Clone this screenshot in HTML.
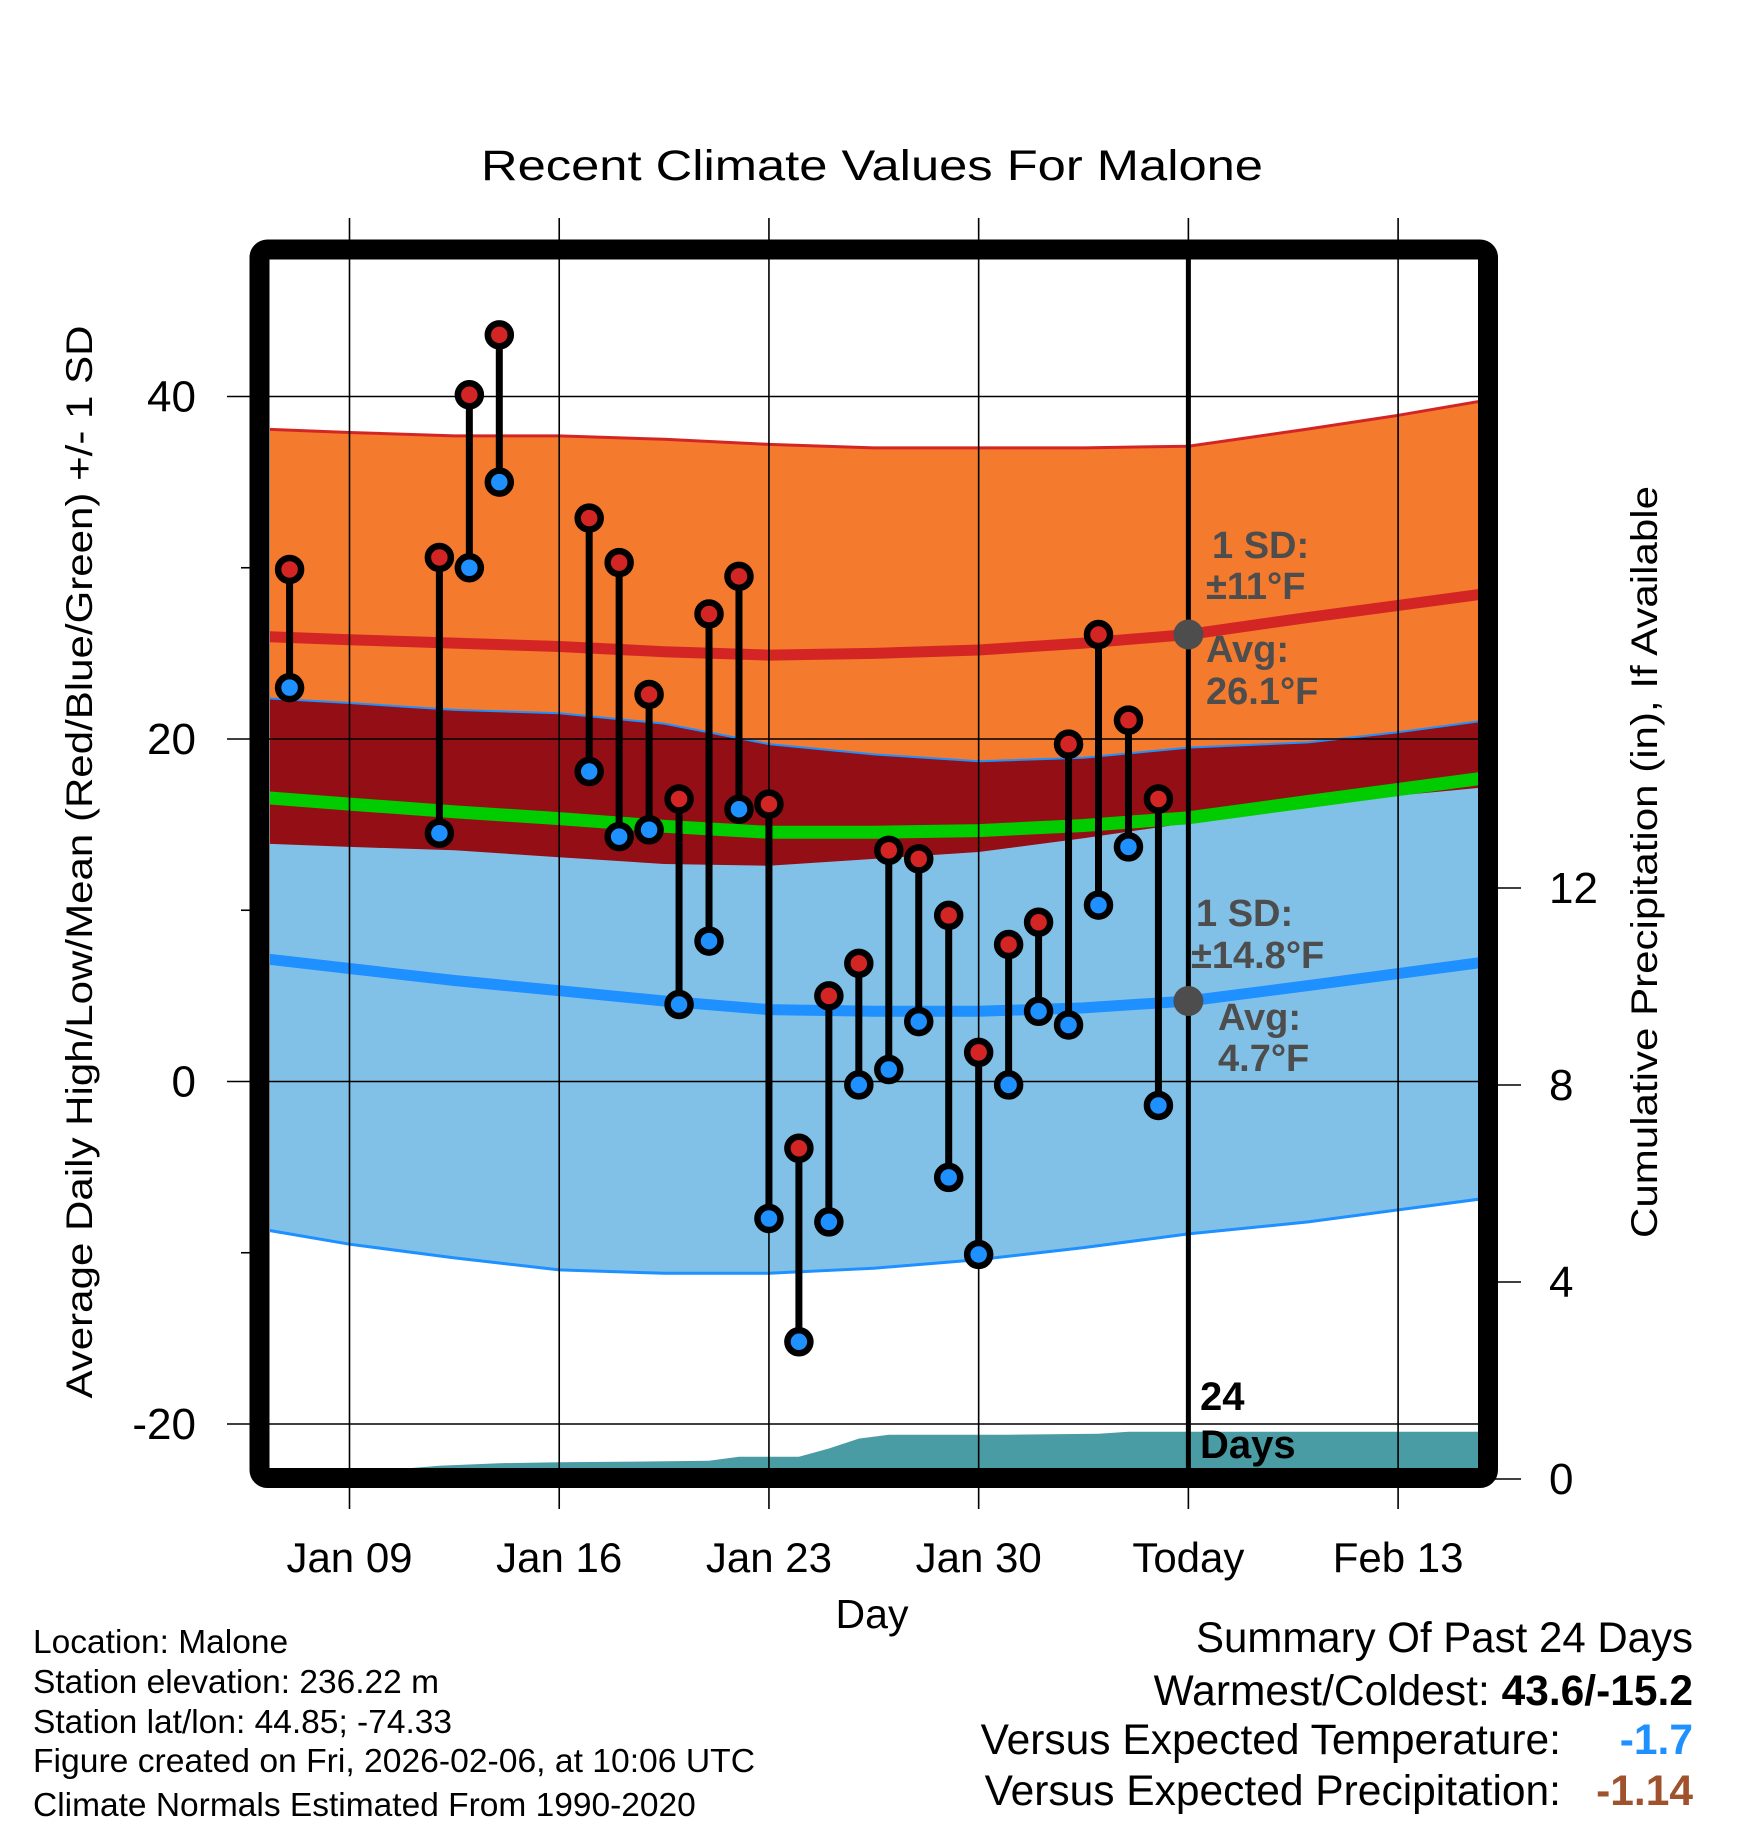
<!DOCTYPE html>
<html><head><meta charset="utf-8"><title>Recent Climate Values For Malone</title>
<style>html,body{margin:0;padding:0;background:#fff}svg{display:block}text{font-family:"Liberation Sans",Arial,sans-serif}</style>
</head><body>
<svg id="chart" xmlns="http://www.w3.org/2000/svg" width="1748" height="1828" viewBox="0 0 1748 1828">
<defs><clipPath id="plotclip"><rect x="270" y="259" width="1208" height="1209"/></clipPath></defs>
<rect x="0" y="0" width="1748" height="1828" fill="#fff"/>
<g id="bands" clip-path="url(#plotclip)"></g>
<g id="grid"></g>
<g id="marks" clip-path="url(#plotclip)"></g>
<rect x="259.5" y="249.5" width="1228.5" height="1228.5" rx="8" fill="none" stroke="#000" stroke-width="20"/>
<g id="labels"></g>
<text x="872" y="180" text-anchor="middle" font-size="43" textLength="782" lengthAdjust="spacingAndGlyphs">Recent Climate Values For Malone</text>
<text transform="translate(92,862) rotate(-90)" text-anchor="middle" font-size="37" textLength="1073" lengthAdjust="spacingAndGlyphs">Average Daily High/Low/Mean (Red/Blue/Green) +/- 1 SD</text>
<text transform="translate(1657,862) rotate(-90)" text-anchor="middle" font-size="37" textLength="752" lengthAdjust="spacingAndGlyphs">Cumulative Precipitation (in), If Available</text>
<text x="872" y="1628" text-anchor="middle" font-size="41">Day</text>
<g font-size="33.5">
<text x="33" y="1653">Location: Malone</text>
<text x="33" y="1693">Station elevation: 236.22 m</text>
<text x="33" y="1733">Station lat/lon: 44.85; -74.33</text>
<text x="33" y="1772" textLength="722" lengthAdjust="spacingAndGlyphs">Figure created on Fri, 2026-02-06, at 10:06 UTC</text>
<text x="33" y="1816">Climate Normals Estimated From 1990-2020</text>
</g>
<g font-size="42.5">
<text x="1693" y="1652" text-anchor="end" textLength="497" lengthAdjust="spacingAndGlyphs">Summary Of Past 24 Days</text>
<text x="1693" y="1705" text-anchor="end">Warmest/Coldest: <tspan font-weight="bold">43.6/-15.2</tspan></text>
<text x="1561" y="1754" text-anchor="end">Versus Expected Temperature:</text>
<text x="1693" y="1754" text-anchor="end" font-weight="bold" fill="#1e90ff">-1.7</text>
<text x="1561" y="1805" text-anchor="end">Versus Expected Precipitation:</text>
<text x="1693" y="1805" text-anchor="end" font-weight="bold" fill="#a0522d">-1.14</text>
</g>
</svg>
<script>
// day numbers: day of January (Feb d = 31 + d)
const obsDays = [7,12,13,14,17,18,19,20,21,22,23,24,25,26,27,28,29,30,31,32,33,34,35,36];
const obsHigh = [29.9,30.6,40.1,43.6,32.9,30.3,22.6,16.5,27.3,29.5,16.2,-3.9,5.0,6.9,13.5,13.0,9.7,1.7,8.0,9.3,19.7,26.1,21.1,16.5];
const obsLow  = [23.0,14.5,30.0,35.0,18.1,14.3,14.7,4.5,8.2,15.9,-8.0,-15.2,-8.2,-0.2,0.7,3.5,-5.6,-10.1,-0.2,4.1,3.3,10.3,13.7,-1.4];
const normDays = [6,9,12.5,16,19.5,23,26.5,30,33.5,37,41,44,47];
const normHighAvg = [26.0,25.8,25.6,25.4,25.1,24.9,25.0,25.2,25.6,26.1,27.1,27.8,28.5];
const normHighSD  = [12.1,12.1,12.1,12.3,12.4,12.3,12.0,11.8,11.4,11.0,11.0,11.1,11.3];
const normLowAvg  = [7.2,6.6,5.9,5.3,4.7,4.2,4.1,4.1,4.3,4.7,5.6,6.3,7.0];
const normLowSDUp = [15.2,15.5,15.8,16.2,16.2,15.5,15.0,14.6,14.6,14.8,14.2,14.1,14.1];
const normLowSDDn = [15.8,16.1,16.2,16.3,15.9,15.4,15.0,14.5,14.0,13.6,13.8,13.8,13.8];
const precipDays = [6,11,12,14,16,18,21,22,24,25,26,27,31,34,35,47];
const precipCum  = [0.0,0.22,0.27,0.32,0.34,0.35,0.37,0.45,0.45,0.62,0.82,0.90,0.90,0.92,0.96,0.96];
const xTickDays = [9,16,23,30,37,44];
const xTickLabels = ["Jan 09","Jan 16","Jan 23","Jan 30","Today","Feb 13"];
const yTicks = [40,20,0,-20];
const yMinor = [30,10,-10];
const pTicks = [0,4,8,12];
const todayDay = 37;

const NS="http://www.w3.org/2000/svg";
const xOf = d => 349.5 + (d-9)*29.96;
const yOf = t => 1081.5 - t*17.125;
const pOf = p => 1479 - p*49.25;
function el(tag, attrs, parent){const e=document.createElementNS(NS,tag);for(const k in attrs)e.setAttribute(k,attrs[k]);parent.appendChild(e);return e;}
function pts(days, vals){return days.map((d,i)=>xOf(d).toFixed(1)+","+yOf(vals[i]).toFixed(1));}
const bands=document.getElementById('bands'), grid=document.getElementById('grid'), marks=document.getElementById('marks'), labels=document.getElementById('labels');
const hU=normHighAvg.map((v,i)=>v+normHighSD[i]), hL=normHighAvg.map((v,i)=>v-normHighSD[i]);
const lU=normLowAvg.map((v,i)=>v+normLowSDUp[i]), lL=normLowAvg.map((v,i)=>v-normLowSDDn[i]);
const mean=normHighAvg.map((v,i)=>(v+normLowAvg[i])/2);
const rev=a=>a.slice().reverse();
let e;
e=el('polygon',{points:pts(normDays,hU).concat(rev(pts(normDays,hL))).join(' '),fill:'#f47a2e'},bands);


e=el('polygon',{points:pts(normDays,lU).concat(rev(pts(normDays,lL))).join(' '),fill:'#82c1e7'},bands);


e=el('polygon',{points:pts(normDays,lU).concat(rev(pts(normDays,hL))).join(' '),fill:'#930e15'},bands);


e=el('polyline',{points:pts(normDays,hU).join(' '),fill:'none',stroke:'#d42525','stroke-width':3},bands);


e=el('polyline',{points:pts(normDays,lU).join(' '),fill:'none',stroke:'#1e90ff','stroke-width':2},bands);


e=el('polyline',{points:pts(normDays,lL).join(' '),fill:'none',stroke:'#1e90ff','stroke-width':3},bands);


e=el('polyline',{points:pts(normDays,mean).join(' '),fill:'none',stroke:'#00cc00','stroke-width':13},bands);


e=el('polyline',{points:pts(normDays,normHighAvg).join(' '),fill:'none',stroke:'#d42525','stroke-width':11},bands);


e=el('polyline',{points:pts(normDays,normLowAvg).join(' '),fill:'none',stroke:'#1e90ff','stroke-width':11},bands);


// precip area
const pp=precipDays.map((d,i)=>xOf(d).toFixed(1)+","+pOf(precipCum[i]).toFixed(1));
pp.push(xOf(precipDays[precipDays.length-1]).toFixed(1)+",1490", xOf(precipDays[0]).toFixed(1)+",1490");
e=el('polygon',{points:pp.join(' '),fill:'#4a9ca4'},bands);


// grid
xTickDays.forEach((d,i)=>{
  e=el('line',{x1:xOf(d),x2:xOf(d),y1:218,y2:1509,stroke:'#000','stroke-width':1.6},grid);
  
  
  e=el('text',{x:xOf(d),y:1572,'text-anchor':'middle','font-size':42},labels);
  e.textContent=xTickLabels[i];
  
  
});
yTicks.forEach(t=>{
  e=el('line',{x1:227,x2:1478,y1:yOf(t),y2:yOf(t),stroke:'#000','stroke-width':1.6},grid);
  
  
  e=el('text',{x:196,y:yOf(t)+15,'text-anchor':'end','font-size':44},labels);
  e.textContent=String(t);
  
  
});
yMinor.forEach(t=>{
  e=el('line',{x1:241,x2:255,y1:yOf(t),y2:yOf(t),stroke:'#000','stroke-width':1.6},grid);
  
  
});
pTicks.forEach(p=>{
  e=el('line',{x1:1490,x2:1521,y1:pOf(p),y2:pOf(p),stroke:'#000','stroke-width':1.6},grid);
  
  
  e=el('text',{x:1549,y:pOf(p)+15,'text-anchor':'start','font-size':44},labels);
  e.textContent=String(p);
  
  
});
// today line
e=el('line',{x1:xOf(todayDay),x2:xOf(todayDay),y1:259,y2:1468,stroke:'#000','stroke-width':5},marks);


// stems & dots
obsDays.forEach((d,i)=>{
  const x=xOf(d);
  e=el('line',{x1:x,x2:x,y1:yOf(obsHigh[i]),y2:yOf(obsLow[i]),stroke:'#000','stroke-width':7},marks);
  
  
});
obsDays.forEach((d,i)=>{
  const x=xOf(d);
  e=el('circle',{cx:x,cy:yOf(obsHigh[i]),r:11.5,fill:'#d42525',stroke:'#000','stroke-width':6.5},marks);
  
  
  e=el('circle',{cx:x,cy:yOf(obsLow[i]),r:11.5,fill:'#1e90ff',stroke:'#000','stroke-width':6.5},marks);
  
  
});
// today avg markers
const todayHigh=26.1, todayLow=4.7;
e=el('circle',{cx:xOf(todayDay),cy:yOf(todayHigh),r:15,fill:'#4d4d4d'},marks);


e=el('circle',{cx:xOf(todayDay),cy:yOf(todayLow),r:15,fill:'#4d4d4d'},marks);


// annotations
const ann=[["1 SD:",1212,558],["\u00b111\u00b0F",1206,599],["Avg:",1206,662],["26.1\u00b0F",1206,704],["1 SD:",1196,926],["\u00b114.8\u00b0F",1191,968],["Avg:",1218,1030],["4.7\u00b0F",1218,1071]];
ann.forEach(a=>{
  e=el('text',{x:a[1],y:a[2],'font-size':38,'font-weight':'bold',fill:'#4d4d4d'},labels);
  e.textContent=a[0];
  
  
});
e=el('text',{x:1200,y:1410,'font-size':40,'font-weight':'bold',fill:'#000'},labels);
e.textContent="24";


e=el('text',{x:1200,y:1458,'font-size':40,'font-weight':'bold',fill:'#000'},labels);
e.textContent="Days";


</script>
</body></html>
